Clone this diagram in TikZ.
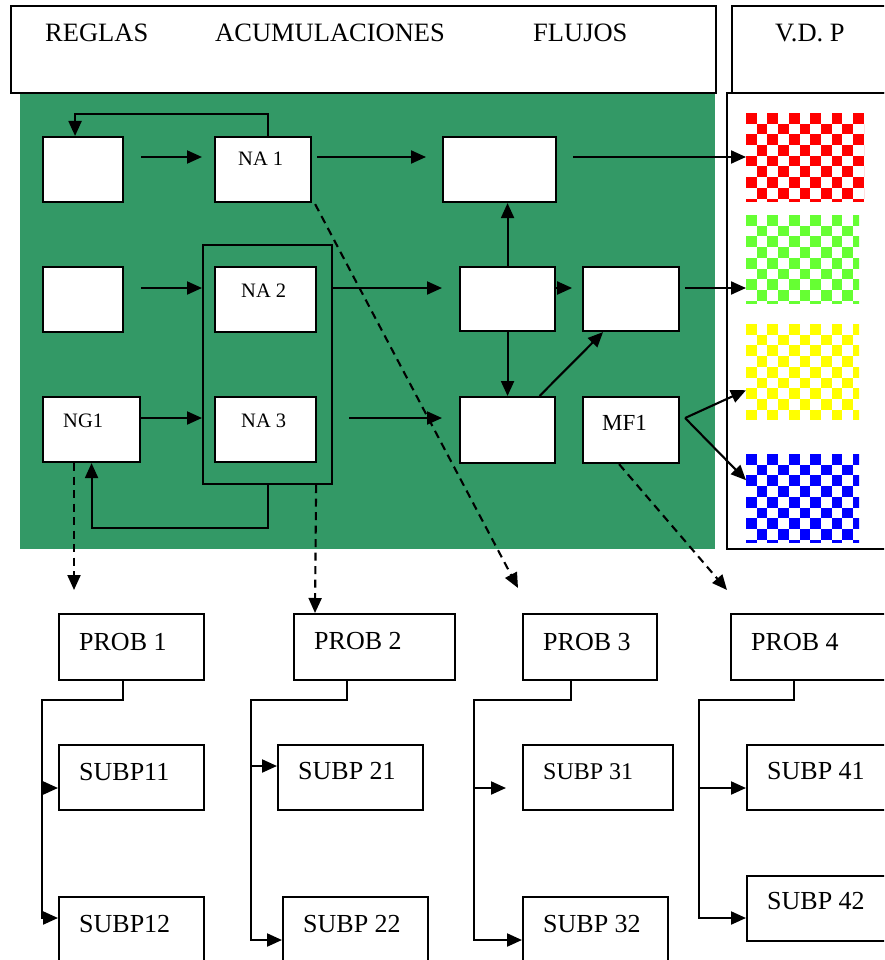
\documentclass[tikz,border=0pt]{standalone}
\usepackage{fontspec}
\setmainfont{Liberation Serif}
\usetikzlibrary{arrows.meta,calc}
\definecolor{grn}{RGB}{51,153,102}
\definecolor{chkred}{RGB}{255,0,0}
\definecolor{chkgreen}{RGB}{102,255,51}
\definecolor{chkyellow}{RGB}{255,255,0}
\definecolor{chkblue}{RGB}{0,0,255}
\newcommand{\chk}[5]{%
  \begin{scope}
    \clip (#1,#2) rectangle ++(#3,#4);
    \fill[white] (#1,#2) rectangle ++(#3,#4);
    \foreach \ii in {0,...,11}{%
      \foreach \jj in {0,...,9}{%
        \pgfmathtruncatemacro{\pp}{mod(\ii+\jj,2)}%
        \ifnum\pp=0\relax
          \fill[#5] ({#1+\ii*10.7},{#2+\jj*10.7}) rectangle ++(10.7,10.7);
        \fi
      }}
  \end{scope}}
\begin{document}
\begin{tikzpicture}[x=1pt,y=-1pt,
  bx/.style 2 args={draw, line width=2.1pt, fill=white, anchor=north west, inner sep=0pt, minimum width=#1, minimum height=#2},
  tx/.style={anchor=base west, inner sep=0pt, font=\fontsize{26}{31}\selectfont},
  txh/.style={anchor=base west, inner sep=0pt, font=\fontsize{26.5}{31}\selectfont},
  txs/.style={anchor=base west, inner sep=0pt, font=\fontsize{20.5}{24}\selectfont},
  arr/.style={line width=2.1pt, -{Triangle[length=15pt,width=13pt]}},
  dsh/.style={line width=2.1pt, dash pattern=on 8pt off 5.5pt, -{Triangle[length=15pt,width=13pt]}}
]
\useasboundingbox (0,0) rectangle (884,960);
\clip (0,0) rectangle (884,960);
\fill[white] (0,0) rectangle (884,960);

% green area and headers
\fill[grn] (20,92) rectangle (715,549);
\node[bx={705}{87}] (H1) at (10,5) {};
\node[bx={180}{87}] (H2) at (731,5) {};
\node[bx={180}{456}] (RP) at (726,92) {};
\node[txh] (tR) at (45,42) {REGLAS};
\node[txh] (tA) at (215,42) {ACUMULACIONES};
\node[txh] (tF) at (533,42) {FLUJOS};
\node[txh] (tV) at (775,42) {V.D.~P};

% checker patterns
\chk{746}{113}{118}{88}{chkred}
\chk{746}{215}{113}{88}{chkgreen}
\chk{746}{324}{113}{95}{chkyellow}
\chk{746}{454}{113}{88}{chkblue}
\node[anchor=north west, inner sep=0pt, minimum width=118, minimum height=88] (red) at (746,113) {};
\node[anchor=north west, inner sep=0pt, minimum width=113, minimum height=88] (green) at (746,215) {};
\node[anchor=north west, inner sep=0pt, minimum width=113, minimum height=95] (yellow) at (746,324) {};
\node[anchor=north west, inner sep=0pt, minimum width=113, minimum height=88] (blue) at (746,454) {};

% rows
\coordinate (r1) at (0,157);
\coordinate (r2) at (0,288);
\coordinate (r3) at (0,418);

% boxes in green area
\node[draw, line width=2.1pt, anchor=north west, inner sep=0pt, minimum width=129, minimum height=239] (G) at (202,244) {};
\node[bx={80}{65}] (A) at (42,136) {};
\node[bx={96}{65}] (NA1) at (214,136) {};
\node[bx={113}{65}] (B) at (442,136) {};
\node[bx={80}{65}] (E) at (42,266) {};
\node[bx={101}{65}] (NA2) at (214,266) {};
\node[bx={95}{64}] (C) at (459,266) {};
\node[bx={96}{64}] (D) at (582,266) {};
\node[bx={97}{65}] (NG1) at (42,396) {};
\node[bx={101}{65}] (NA3) at (214,396) {};
\node[bx={95}{66}] (F) at (459,396) {};
\node[bx={96}{66}] (MF1) at (582,396) {};

\node[txs] (tNA1) at (238,166) {NA 1};
\node[txs] (tNA2) at (241,297) {NA 2};
\node[txs] (tNA3) at (241,427) {NA 3};
\node[txs] (tNG1) at (63,427) {NG1};
\node[anchor=base west, inner sep=0pt, font=\fontsize{23}{27}\selectfont] (tMF1) at (602,430) {MF1};

% connectors in green area
\draw[arr] ($(A.east |- r1)+(17,0)$) -- ($(NA1.west |- r1)+(-12,0)$);
\draw[arr] ($(NA1.east |- r1)+(5,0)$) -- ($(B.west |- r1)+(-16,0)$);
\draw[arr] ($(B.east |- r1)+(16,0)$) -- (red.west |- r1);
\draw[arr] ($(NA1.north)+(5,0)$) -- ++(0,-22) -| ($(A.north)+(-8,0)$);
\draw[arr] ($(E.east |- r2)+(17,0)$) -- (G.west |- r2);
\draw[arr] (NG1.east |- r3) -- (G.west |- r3);
\draw[arr] (G.east |- r2) -- ($(C.west |- r2)+(-17,0)$);
\draw[arr] ($(G.east |- r3)+(16,0)$) -- ($(F.west |- r3)+(-17,0)$);
\draw[arr] (G.south) -- ++(0,43) -| (NG1.south);
\draw[arr] (C.north) -- (C.north |- B.south);
\draw[arr] (C.east |- r2) -- ($(C.east |- r2)+(16,0)$);
\draw[arr] ($(D.east |- r2)+(5,0)$) -- (green.west |- r2);
\draw[arr] (C.south) -- (F.north);
\draw[arr] ($(F.north)+(32,0)$) -- ($(D.south)+(-28,0)$);
\coordinate (m) at ($(MF1.east |- r3)+(5,0)$);
\draw[arr] (m) -- ($(yellow.west)+(0,18.5)$);
\draw[arr] (m) -- ($(blue.west)+(0,-18)$);

% dashed connectors
\coordinate (d1) at (74,590);
\coordinate (d3) at (518,588);
\coordinate (d4) at (727,590);
\draw[dsh] (NG1.south -| d1) -- (d1);
\draw[dsh] ($(NA1.south east)+(3,1)$) -- (d3);
\draw[dsh] ($(MF1.south)+(-12,0)$) -- (d4);

% bottom boxes
\node[bx={145}{66}] (P1) at (58,613) {};
\node[bx={161}{66}] (P2) at (293,613) {};
\node[bx={134}{66}] (P3) at (522,613) {};
\node[bx={170}{66}] (P4) at (730,613) {};
\node[bx={145}{65}] (S11) at (58,744) {};
\node[bx={145}{80}] (S12) at (58,896) {};
\node[bx={145}{65}] (S21) at (277,744) {};
\node[bx={145}{80}] (S22) at (282,896) {};
\node[bx={150}{65}] (S31) at (522,744) {};
\node[bx={145}{80}] (S32) at (522,896) {};
\node[bx={160}{65}] (S41) at (746,744) {};
\node[bx={160}{65}] (S42) at (746,875) {};

\draw[dsh] ($(G.south east)+(-17,0)$) -- ($(P2.north west)+(22,0)$);

\node[tx] (tP1) at (79,650) {PROB 1};
\node[tx] (tP2) at (314,649) {PROB 2};
\node[tx] (tP3) at (543,650) {PROB 3};
\node[tx] (tP4) at (751,650) {PROB 4};
\node[tx] (tS11) at (79,780) {SUBP11};
\node[tx] (tS12) at (79,932) {SUBP12};
\node[tx] (tS21) at (298,779) {SUBP 21};
\node[tx] (tS22) at (303,932) {SUBP 22};
\node[anchor=base west, inner sep=0pt, font=\fontsize{24}{29}\selectfont] (tS31) at (543,779) {SUBP 31};
\node[tx] (tS32) at (543,932) {SUBP 32};
\node[tx] (tS41) at (767,779) {SUBP 41};
\node[tx] (tS42) at (767,909) {SUBP 42};

% tree connectors
\coordinate (k1) at (42,700);
\coordinate (k2) at (251,700);
\coordinate (k3) at (474,700);
\coordinate (k4) at (699,700);
\coordinate (y11) at (0,788);
\coordinate (y12) at (0,918);
\coordinate (y21) at (0,766);
\coordinate (y22) at (0,940);
\coordinate (y31) at (0,788);
\coordinate (y32) at (0,940);
\coordinate (y41) at (0,788);
\coordinate (y42) at (0,918);

\draw[arr] ($(P1.south west)+(65,0)$) |- (k1) |- (S12.west |- y12);
\draw[arr] (k1 |- y11) -- (S11.west |- y11);
\draw[arr] ($(P2.south west)+(54,0)$) |- (k2) |- (S22.west |- y22);
\draw[arr] (k2 |- y21) -- (S21.west |- y21);
\draw[arr] ($(P3.south west)+(49,0)$) |- (k3) |- (S32.west |- y32);
\draw[arr] (k3 |- y31) -- ($(S31.west |- y31)+(-16,0)$);
\draw[arr] ($(P4.south west)+(64,0)$) |- (k4) |- (S42.west |- y42);
\draw[arr] (k4 |- y41) -- (S41.west |- y41);
\end{tikzpicture}
\end{document}
